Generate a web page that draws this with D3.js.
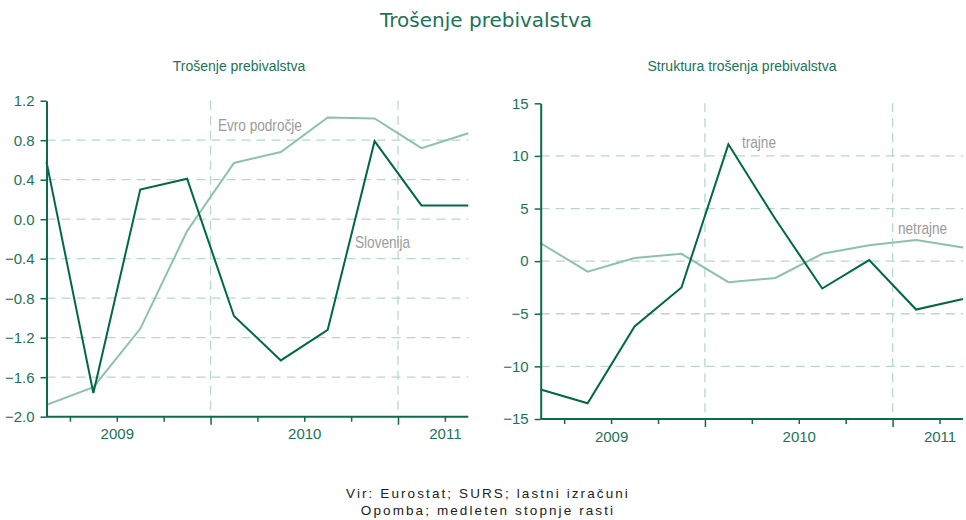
<!DOCTYPE html>
<html>
<head>
<meta charset="utf-8">
<script src="https://cdn.jsdelivr.net/npm/d3@7"></script>
<style>
  body { margin: 0; background: #fff; }
  svg { display: block; }
</style>
</head>
<body>
<svg id="chart" width="966" height="520"></svg>
<script>
// quarters shown on both panels (points sit mid-quarter)
const quarters = ["2009 Q1", "2009 Q2", "2009 Q3", "2009 Q4",
                  "2010 Q1", "2010 Q2", "2010 Q3", "2010 Q4",
                  "2011 Q1", "2011 Q2"];
const years = ["2009", "2010", "2011"];

// left panel: y-o-y growth
const slovenija = [0.58, -1.76, 0.30, 0.41, -0.98, -1.43, -1.12, 0.79, 0.14, 0.14];
const evroObmocje = [-1.88, -1.70, -1.11, -0.12, 0.57, 0.68, 1.03, 1.02, 0.72, 0.87];
const leftTicks = [1.2, 0.8, 0.4, 0.0, -0.4, -0.8, -1.2, -1.6, -2.0];

// right panel: structure
const trajne = [-12.2, -13.5, -6.2, -2.5, 11.1, 4.0, -2.6, 0.1, -4.6, -3.6];
const netrajne = [1.7, -1.0, 0.3, 0.7, -2.0, -1.6, 0.7, 1.5, 2.0, 1.3];
const rightTicks = [15, 10, 5, 0, -5, -10, -15];

const C = {
  dark: "#006748",
  light: "#8cc2ad",
  grid: "#b7d9cc",
  axis: "#0b6b4d",
  text: "#1b7358",
  label: "#9b9b9b"
};
const FONT = "'Liberation Sans', Arial, sans-serif";

const svg = d3.select("#chart");

// main title
svg.append("text")
  .attr("x", 486).attr("y", 27)
  .attr("text-anchor", "middle")
  .style("font-family", "'DejaVu Sans', sans-serif")
  .style("font-size", "20px")
  .style("fill", C.text)
  .text("Trošenje prebivalstva");

function panel(opts) {
  const g = svg.append("g");
  const x = d3.scaleLinear().domain([0, quarters.length - 1]).range([opts.x0, opts.x1]);
  const y = d3.scaleLinear().domain(d3.extent(opts.ticks)).range([opts.y1, opts.y0]);

  // subtitle
  g.append("text")
    .attr("x", opts.titleX).attr("y", 71)
    .attr("text-anchor", "middle")
    .style("font-family", FONT)
    .style("font-size", "14px")
    .style("fill", C.text)
    .text(opts.title);

  // tick positions between quarters, year boundaries are the major ones
  const tickVals = d3.range(0.5, quarters.length - 1, 1);
  const isMajor = v => quarters[Math.ceil(v)] && quarters[Math.ceil(v)].endsWith("Q1");
  const yearAt = {};
  years.forEach(yr => {
    const idx = quarters.map((q, i) => q.startsWith(yr) ? i : -1).filter(i => i >= 0);
    const mid = Math.min(idx[0] + 1.5, tickVals[tickVals.length - 1]);
    yearAt[mid] = yr;
  });

  // horizontal grid
  g.append("g").selectAll("line")
    .data(opts.ticks.slice(1, -1))
    .join("line")
    .attr("x1", opts.x0).attr("x2", opts.x1)
    .attr("y1", d => y(d)).attr("y2", d => y(d))
    .attr("stroke", C.grid).attr("stroke-width", 1.3)
    .attr("stroke-dasharray", "9,6");

  // vertical grid at year boundaries
  g.append("g").selectAll("line")
    .data(tickVals.filter(isMajor))
    .join("line")
    .attr("x1", d => x(d)).attr("x2", d => x(d))
    .attr("y1", opts.y0).attr("y2", opts.y1)
    .attr("stroke", C.grid).attr("stroke-width", 1.3)
    .attr("stroke-dasharray", "9,6");

  // series
  const line = d3.line().x((d, i) => x(i)).y(d => y(d));
  g.append("path").datum(opts.lightData)
    .attr("d", line).attr("fill", "none")
    .attr("stroke", C.light).attr("stroke-width", 2);
  g.append("path").datum(opts.darkData)
    .attr("d", line).attr("fill", "none")
    .attr("stroke", C.dark).attr("stroke-width", 2);

  // x axis
  const xa = g.append("g")
    .attr("transform", `translate(0,${opts.y1})`)
    .call(d3.axisBottom(x).tickValues(tickVals).tickSize(5).tickSizeOuter(0)
      .tickPadding(7).tickFormat(d => yearAt[d] || ""));
  xa.select(".domain").attr("stroke", C.axis).attr("stroke-width", 2)
    .attr("d", `M${opts.x0},0H${opts.x1}`);
  xa.selectAll(".tick line").attr("stroke", C.axis).attr("stroke-width", 1.5)
    .attr("y2", d => isMajor(d) ? 8 : 5);
  xa.selectAll(".tick text").style("font-family", FONT).style("font-size", "15px")
    .attr("fill", C.text);

  // y axis
  const ya = g.append("g")
    .attr("transform", `translate(${opts.x0},0)`)
    .call(d3.axisLeft(y).tickValues(opts.ticks).tickSize(6).tickSizeOuter(0)
      .tickPadding(6).tickFormat(opts.fmt));
  ya.select(".domain").attr("stroke", C.axis).attr("stroke-width", 2);
  ya.selectAll(".tick line").attr("stroke", C.axis).attr("stroke-width", 1.5);
  ya.selectAll(".tick text").style("font-family", FONT).style("font-size", "15px")
    .attr("fill", C.text);

  // series labels (condensed look)
  opts.labels.forEach(l => {
    g.append("text")
      .attr("transform", `translate(${l.x},${l.y}) scale(0.85,1)`)
      .style("font-family", FONT)
      .style("font-size", "16px")
      .style("fill", C.label)
      .text(l.text);
  });
}

panel({
  title: "Trošenje prebivalstva", titleX: 239,
  x0: 46.5, x1: 468.3, y0: 100.7, y1: 416.7,
  ticks: leftTicks, fmt: d3.format(".1f"),
  darkData: slovenija, lightData: evroObmocje,
  labels: [{text: "Evro področje", x: 218, y: 131}, {text: "Slovenija", x: 355, y: 248}]
});

panel({
  title: "Struktura trošenja prebivalstva", titleX: 742,
  x0: 540.7, x1: 963, y0: 103.3, y1: 419,
  ticks: rightTicks, fmt: d3.format("d"),
  darkData: trajne, lightData: netrajne,
  labels: [{text: "trajne", x: 742, y: 148}, {text: "netrajne", x: 898, y: 234}]
});

// footnote
const foot = svg.append("g")
  .style("font-family", FONT)
  .style("font-size", "13.5px")
  .style("letter-spacing", "2.1px")
  .style("fill", "#222");
foot.append("text").attr("x", 488).attr("y", 498).attr("text-anchor", "middle")
  .text("Vir: Eurostat; SURS; lastni izračuni");
foot.append("text").attr("x", 488).attr("y", 515).attr("text-anchor", "middle")
  .text("Opomba; medleten stopnje rasti");
</script>
</body>
</html>
